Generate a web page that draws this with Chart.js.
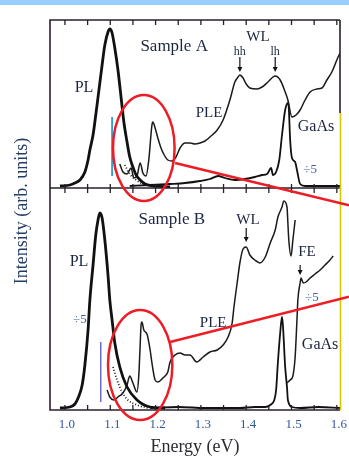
<!DOCTYPE html>
<html>
<head>
<meta charset="utf-8">
<script src="https://cdn.jsdelivr.net/npm/chart.js@4.4.0/dist/chart.umd.min.js"></script>
<style>
  html, body { margin: 0; padding: 0; background: #fff; }
  #wrap { position: relative; width: 349px; height: 459px; overflow: hidden; }
  #topbar { position: absolute; left: 0; top: 0; width: 349px; height: 5px; background: #99ccff; }
  canvas { position: absolute; left: 0; top: 0; }
</style>
</head>
<body>
<div id="wrap">
  <canvas id="spectra" width="349" height="459"></canvas>
  <div id="topbar"></div>
</div>
<script>
// energy axis (eV): ticks every 0.05, numbers on the tenths
const energyTicks = [1.0, 1.05, 1.1, 1.15, 1.2, 1.25, 1.3, 1.35, 1.4, 1.45, 1.5, 1.55, 1.6];
const energyLabels = ["1.0", "1.1", "1.2", "1.3", "1.4", "1.5", "1.6"];
const energyLabelValues = [1.0, 1.1, 1.2, 1.3, 1.4, 1.5, 1.6];

// ---- Sample A ----
const plA_E = [0.989, 1.011, 1.022, 1.033, 1.044, 1.051, 1.055, 1.062, 1.068, 1.075, 1.082, 1.088, 1.095, 1.099,
  1.104, 1.110, 1.117, 1.124, 1.130, 1.137, 1.143, 1.150, 1.157, 1.166, 1.177, 1.199, 1.232];
const plA_I = [0.10, 0.15, 0.25, 0.40, 0.80, 1.40, 1.90, 2.65, 3.65, 4.90, 6.15, 7.15, 7.80, 7.95,
  7.75, 7.00, 5.90, 4.50, 3.30, 2.30, 1.55, 1.05, 0.65, 0.40, 0.20, 0.10, 0.05];

const plAdots_E = [1.132, 1.143, 1.157, 1.172, 1.192];
const plAdots_I = [1.15, 0.70, 0.40, 0.20, 0.10];

const pleA_E = [1.121, 1.128, 1.137, 1.146, 1.152, 1.159, 1.166, 1.172, 1.179, 1.185, 1.192, 1.194, 1.199, 1.205,
  1.212, 1.219, 1.227, 1.236, 1.245, 1.254, 1.265, 1.276, 1.287, 1.298, 1.309, 1.320, 1.336, 1.349, 1.364,
  1.375, 1.382, 1.386, 1.393, 1.400, 1.408, 1.424, 1.435, 1.448, 1.464, 1.475, 1.486, 1.492, 1.501, 1.510,
  1.519, 1.530, 1.541, 1.556, 1.567, 1.578, 1.589, 1.600, 1.607];
const pleA_I = [1.20, 0.80, 0.70, 1.00, 0.50, 0.60, 1.25, 0.75, 0.60, 1.40, 3.15, 3.30, 3.00, 2.50,
  2.00, 1.65, 1.40, 1.35, 1.55, 2.00, 2.25, 2.25, 2.20, 2.25, 2.35, 2.55, 2.90, 3.40, 4.40,
  5.30, 5.55, 5.65, 5.50, 5.20, 5.00, 4.95, 5.05, 5.30, 5.60, 5.40, 4.80, 4.40, 3.55, 3.65,
  3.90, 4.40, 4.80, 4.95, 5.00, 5.40, 5.80, 6.40, 6.75];

const gaasA_E = [1.143, 1.188, 1.232, 1.265, 1.298, 1.320, 1.338, 1.353, 1.375, 1.397, 1.419, 1.435, 1.446, 1.455,
  1.459, 1.466, 1.473, 1.479, 1.486, 1.492, 1.494, 1.497, 1.501, 1.508, 1.512, 1.519, 1.530, 1.607];
const gaasA_I = [0.10, 0.15, 0.20, 0.25, 0.35, 0.45, 0.60, 0.50, 0.40, 0.45, 0.55, 0.65, 0.70, 1.00,
  0.65, 0.80, 1.40, 2.65, 3.90, 4.25, 4.00, 2.40, 1.50, 1.30, 0.90, 0.20, 0.10, 0.10];

const markA_E = [1.104, 1.104];
const markA_I = [0.60, 3.55];

// ---- Sample B ----
const plB_E = [0.989, 1.011, 1.022, 1.029, 1.038, 1.044, 1.051, 1.055, 1.062, 1.068, 1.073, 1.077,
  1.082, 1.088, 1.095, 1.099, 1.104, 1.110, 1.121, 1.137, 1.159, 1.188, 1.221];
const plB_I = [0.10, 0.15, 0.30, 0.60, 1.25, 2.25, 4.00, 5.50, 7.25, 8.75, 9.50, 9.85,
  9.60, 8.50, 6.75, 5.50, 4.50, 3.35, 2.15, 1.15, 0.50, 0.15, 0.10];

const plBdots_E = [1.106, 1.115, 1.126, 1.139, 1.159, 1.183];
const plBdots_I = [2.15, 1.50, 0.90, 0.50, 0.25, 0.10];

const pleB_E = [1.093, 1.099, 1.108, 1.117, 1.128, 1.137, 1.143, 1.150, 1.159, 1.163, 1.166, 1.168, 1.170, 1.174,
  1.181, 1.188, 1.192, 1.199, 1.205, 1.216, 1.227, 1.232, 1.243, 1.254, 1.265, 1.276, 1.291, 1.305, 1.320,
  1.336, 1.349, 1.360, 1.369, 1.373, 1.380, 1.386, 1.393, 1.400, 1.408, 1.419, 1.430, 1.442, 1.453, 1.464,
  1.470, 1.479, 1.483, 1.490, 1.492, 1.494, 1.499, 1.503, 1.508];
const pleB_I = [1.00, 0.65, 0.50, 0.65, 0.85, 1.25, 1.70, 1.35, 0.90, 1.75, 3.25, 4.25, 4.40, 4.00,
  3.80, 3.00, 2.35, 1.50, 1.40, 1.60, 1.90, 2.40, 2.75, 2.85, 2.75, 2.75, 2.40, 2.65, 2.90,
  3.00, 3.25, 3.65, 4.35, 5.15, 6.35, 7.35, 8.05, 8.15, 7.75, 7.50, 7.35, 7.65, 8.35, 9.00,
  9.65, 10.15, 10.45, 10.15, 9.35, 8.50, 7.70, 8.50, 9.50];

// PLE above the GaAs gap, divided by 5
const pleBdiv_E = [1.490, 1.497, 1.503, 1.508, 1.512, 1.514, 1.519, 1.521, 1.526, 1.532, 1.541, 1.552, 1.563,
  1.574, 1.585, 1.592];
const pleBdiv_I = [1.35, 1.50, 1.70, 2.65, 4.50, 5.50, 6.35, 6.60, 6.35, 6.40, 6.60, 6.80, 7.00,
  7.25, 7.50, 7.70];

const gaasB_E = [1.188, 1.250, 1.310, 1.386, 1.419, 1.442, 1.453, 1.462, 1.466, 1.470, 1.475, 1.479, 1.481,
  1.486, 1.490, 1.492, 1.501, 1.519, 1.560, 1.607];
const gaasB_I = [0.10, 0.15, 0.10, 0.10, 0.15, 0.15, 0.25, 0.50, 1.00, 2.40, 3.85, 4.65, 4.25,
  2.15, 1.15, 0.50, 0.15, 0.10, 0.15, 0.10];

const markB_E = [1.079, 1.079];
const markB_I = [0.40, 3.40];

const zip = (xs, ys) => xs.map((x, i) => ({ x, y: ys[i] }));

// labels placed in data coordinates of each panel
const panelTexts = [
  { text: "Sample A", axis: "yA", e: 1.241, i: 7.05, size: 17 },
  { text: "WL", axis: "yA", e: 1.426, i: 7.55, size: 15 },
  { text: "hh", axis: "yA", e: 1.386, i: 6.8, size: 12 },
  { text: "lh", axis: "yA", e: 1.464, i: 6.8, size: 12 },
  { text: "PL", axis: "yA", e: 1.042, i: 5.0, size: 16 },
  { text: "PLE", axis: "yA", e: 1.318, i: 3.75, size: 15 },
  { text: "GaAs", axis: "yA", e: 1.554, i: 3.05, size: 16 },
  { text: "÷5", axis: "yA", e: 1.541, i: 0.9, size: 13, color: "#3f5f9f" },
  { text: "Sample B", axis: "yB", e: 1.236, i: 9.5, size: 17 },
  { text: "WL", axis: "yB", e: 1.404, i: 9.5, size: 15 },
  { text: "PL", axis: "yB", e: 1.031, i: 7.4, size: 16 },
  { text: "÷5", axis: "yB", e: 1.033, i: 4.5, size: 13, color: "#3f5f9f" },
  { text: "PLE", axis: "yB", e: 1.327, i: 4.35, size: 15 },
  { text: "FE", axis: "yB", e: 1.534, i: 7.9, size: 15 },
  { text: "÷5", axis: "yB", e: 1.545, i: 5.6, size: 13, color: "#3f5f9f" },
  { text: "GaAs", axis: "yB", e: 1.563, i: 3.25, size: 16 }
];

// peak arrows: energy, tail and tip intensity
const peakArrows = [
  { axis: "yA", e: 1.386, from: 6.55, to: 5.8 },
  { axis: "yA", e: 1.464, from: 6.55, to: 5.8 },
  { axis: "yB", e: 1.400, from: 9.1, to: 8.4 },
  { axis: "yB", e: 1.519, from: 7.25, to: 6.75 }
];

// red call-outs around the low-energy PLE features
const callouts = [
  { axis: "yA", e: 1.174, i: 2.0, re: 0.068, ri: 2.65, from: [1.243, 1.25], toward: [1.607, -0.75] },
  { axis: "yB", e: 1.166, i: 2.25, re: 0.071, ri: 2.75, from: [1.232, 3.4], toward: [1.607, 5.55] }
];

const SERIF = '"Liberation Serif", "DejaVu Serif", serif';

const decorations = {
  id: "decorations",
  afterDatasetsDraw(chart) {
    const { ctx, chartArea: area, scales } = chart;
    const x = scales.x, yA = scales.yA;
    const mid = yA.bottom;
    const yellowFrom = yA.getPixelForValue(3.75);
    ctx.save();

    // frame and the shared middle axis
    ctx.lineWidth = 1.6;
    ctx.strokeStyle = "#2a1f2e";
    ctx.beginPath();
    ctx.moveTo(area.right, area.top);
    ctx.lineTo(area.left, area.top);
    ctx.lineTo(area.left, area.bottom);
    ctx.lineTo(area.right, area.bottom);
    ctx.moveTo(area.left, mid);
    ctx.lineTo(area.right, mid);
    ctx.moveTo(area.right, area.top);
    ctx.lineTo(area.right, yellowFrom);
    ctx.stroke();
    ctx.strokeStyle = "#d8c800";
    ctx.beginPath();
    ctx.moveTo(area.right + 0.5, yellowFrom);
    ctx.lineTo(area.right + 0.5, area.bottom);
    ctx.stroke();

    // inward ticks
    ctx.strokeStyle = "#222";
    ctx.lineWidth = 1.3;
    ctx.beginPath();
    energyTicks.forEach(v => {
      const px = x.getPixelForValue(v);
      ctx.moveTo(px, area.top); ctx.lineTo(px, area.top + 5);
      ctx.moveTo(px, mid - 4); ctx.lineTo(px, mid + 5);
      ctx.moveTo(px, area.bottom); ctx.lineTo(px, area.bottom - 5);
    });
    ctx.stroke();

    // tick numbers
    ctx.fillStyle = "#30589a";
    ctx.font = "13px " + SERIF;
    ctx.textAlign = "center";
    ctx.textBaseline = "middle";
    energyLabelValues.forEach((v, k) => {
      ctx.fillText(energyLabels[k], x.getPixelForValue(v) + 2, area.bottom + 15);
    });

    // axis titles
    ctx.fillStyle = "#2a2a30";
    ctx.font = "18px " + SERIF;
    ctx.fillText("Energy (eV)", (area.left + area.right) / 2, area.bottom + 37);
    ctx.save();
    ctx.translate(22, (area.top + area.bottom) / 2 - 4);
    ctx.rotate(-Math.PI / 2);
    ctx.fillStyle = "#223c66";
    ctx.font = "18px " + SERIF;
    ctx.fillText("Intensity (arb. units)", 0, 0);
    ctx.restore();

    // panel labels
    panelTexts.forEach(t => {
      ctx.fillStyle = t.color || "#1c2440";
      ctx.font = t.size + "px " + SERIF;
      ctx.fillText(t.text, x.getPixelForValue(t.e), scales[t.axis].getPixelForValue(t.i));
    });

    // arrows
    ctx.strokeStyle = "#111";
    ctx.fillStyle = "#111";
    ctx.lineWidth = 1.2;
    peakArrows.forEach(a => {
      const px = x.getPixelForValue(a.e);
      const y0 = scales[a.axis].getPixelForValue(a.from);
      const y1 = scales[a.axis].getPixelForValue(a.to);
      ctx.beginPath();
      ctx.moveTo(px, y0); ctx.lineTo(px, y1 - 4);
      ctx.stroke();
      ctx.beginPath();
      ctx.moveTo(px - 2.5, y1 - 5); ctx.lineTo(px + 2.5, y1 - 5); ctx.lineTo(px, y1);
      ctx.closePath();
      ctx.fill();
    });

    // red call-outs
    ctx.strokeStyle = "#ee1c24";
    ctx.lineWidth = 2.5;
    callouts.forEach(c => {
      const s = scales[c.axis];
      const cx = x.getPixelForValue(c.e), cy = s.getPixelForValue(c.i);
      const rx = Math.abs(x.getPixelForValue(c.e + c.re) - cx);
      const ry = Math.abs(s.getPixelForValue(c.i + c.ri) - cy);
      ctx.beginPath();
      ctx.ellipse(cx, cy, rx, ry, 0, 0, Math.PI * 2);
      ctx.stroke();
      const x0 = x.getPixelForValue(c.from[0]), y0 = s.getPixelForValue(c.from[1]);
      const x1 = x.getPixelForValue(c.toward[0]), y1 = s.getPixelForValue(c.toward[1]);
      const t = (chart.width - x0) / (x1 - x0);
      ctx.beginPath();
      ctx.moveTo(x0, y0);
      ctx.lineTo(chart.width, y0 + (y1 - y0) * t);
      ctx.stroke();
    });

    ctx.restore();
  }
};

const line = (data, axis, color, width, extra) => Object.assign({
  data, yAxisID: axis, borderColor: color, borderWidth: width,
  pointRadius: 0, fill: false, cubicInterpolationMode: "monotone"
}, extra || {});

new Chart(document.getElementById("spectra"), {
  type: "line",
  data: {
    datasets: [
      line(zip(plA_E, plA_I), "yA", "#111", 2.8),
      line(zip(plAdots_E, plAdots_I), "yA", "#222", 1.8, { borderDash: [1, 2] }),
      line(zip(pleA_E, pleA_I), "yA", "#1a1a1a", 1.5),
      line(zip(gaasA_E, gaasA_I), "yA", "#111", 1.8),
      line(zip(markA_E, markA_I), "yA", "#2aa0d0", 1.8),
      line(zip(plB_E, plB_I), "yB", "#111", 2.8),
      line(zip(plBdots_E, plBdots_I), "yB", "#222", 1.8, { borderDash: [1, 2] }),
      line(zip(pleB_E, pleB_I), "yB", "#1a1a1a", 1.5),
      line(zip(pleBdiv_E, pleBdiv_I), "yB", "#1a1a1a", 1.5),
      line(zip(gaasB_E, gaasB_I), "yB", "#111", 1.8),
      line(zip(markB_E, markB_I), "yB", "#6a6ad0", 1.5)
    ]
  },
  options: {
    responsive: false,
    animation: false,
    layout: { padding: { left: 50, right: 9, top: 20, bottom: 49 } },
    plugins: { legend: { display: false }, tooltip: { enabled: false } },
    scales: {
      x: { type: "linear", min: 0.967, max: 1.607, display: false },
      // stacked panels: the scale listed last sits on top
      yB: { type: "linear", min: 0, max: 11.1, display: false, stack: "panels", stackWeight: 222 },
      yA: { type: "linear", min: 0, max: 8.4, display: false, stack: "panels", stackWeight: 168 }
    }
  },
  plugins: [decorations]
});
</script>
</body>
</html>
